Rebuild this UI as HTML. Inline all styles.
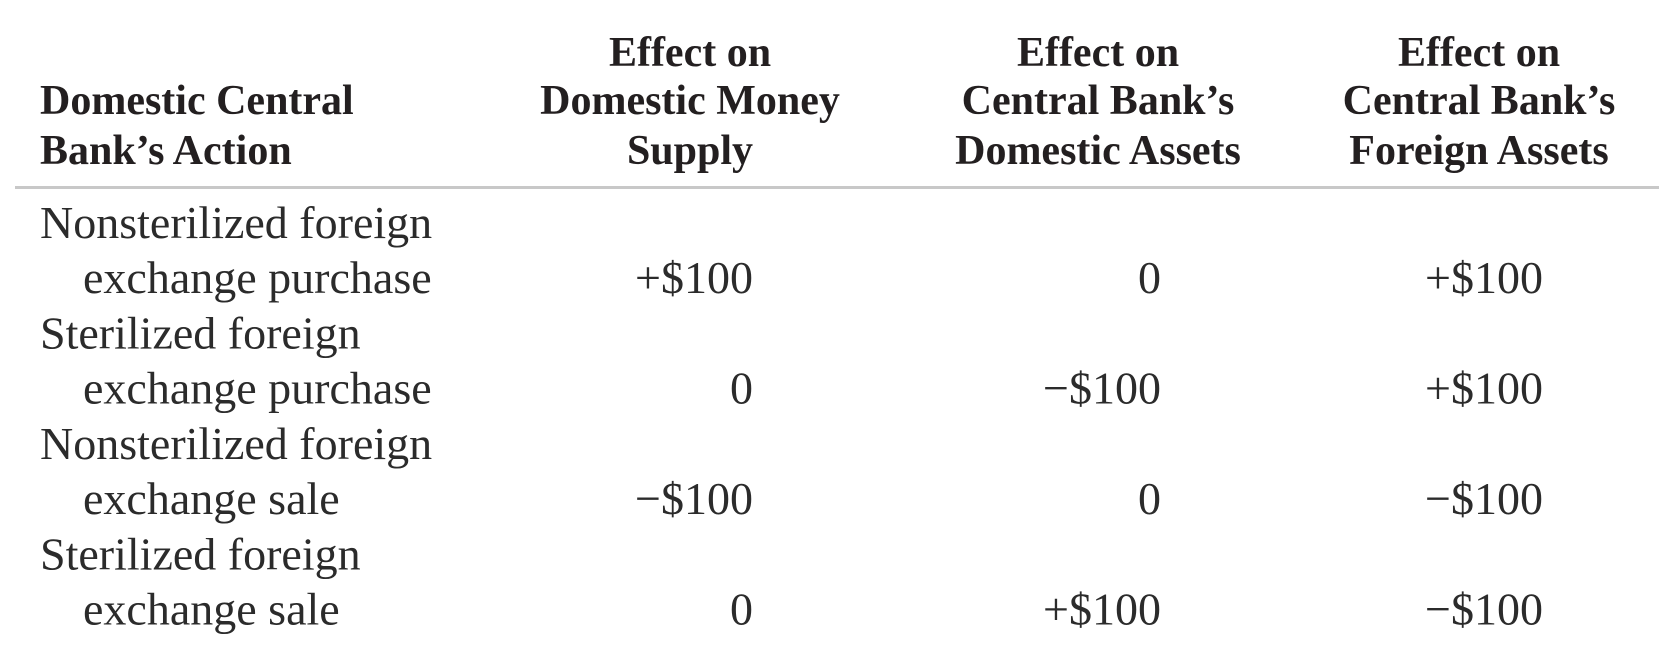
<!DOCTYPE html>
<html><head><meta charset="utf-8"><style>
html,body{margin:0;padding:0;background:#fff;width:1659px;height:667px;overflow:hidden}
svg{display:block}
.h{font-family:"Liberation Serif",serif;font-weight:bold;font-size:42px;fill:#231f20}
.b{font-family:"Liberation Serif",serif;font-size:46px;fill:#2b2b2b}
</style></head><body>
<svg width="1659" height="667">
<g>
<text class="h" x="40" y="114">Domestic Central</text>
<text class="h" x="40" y="164">Bank’s Action</text>
<text class="h" x="690" y="66" text-anchor="middle">Effect on</text>
<text class="h" x="690" y="114" text-anchor="middle">Domestic Money</text>
<text class="h" x="690" y="164" text-anchor="middle">Supply</text>
<text class="h" x="1098" y="66" text-anchor="middle">Effect on</text>
<text class="h" x="1098" y="114" text-anchor="middle">Central Bank’s</text>
<text class="h" x="1098" y="164" text-anchor="middle">Domestic Assets</text>
<text class="h" x="1479" y="66" text-anchor="middle">Effect on</text>
<text class="h" x="1479" y="114" text-anchor="middle">Central Bank’s</text>
<text class="h" x="1479" y="164" text-anchor="middle">Foreign Assets</text>
</g>
<rect x="15" y="186" width="1644" height="3" fill="#c8c8c8"/>
<g id="body"></g>
</svg>
<script>
const actions1 = ["Nonsterilized foreign","Sterilized foreign","Nonsterilized foreign","Sterilized foreign"];
const actions2 = ["exchange purchase","exchange purchase","exchange sale","exchange sale"];
const moneySupply = ["+$100","0","\u2212$100","0"];
const domesticAssets = ["0","\u2212$100","0","+$100"];
const foreignAssets = ["+$100","+$100","\u2212$100","\u2212$100"];
const g = document.getElementById('body');
const NS = "http://www.w3.org/2000/svg";
function t(x, y, s, anchor, name) {
  const el = document.createElementNS(NS, 'text');
  el.setAttribute('class', 'b');
  el.setAttribute('x', x);
  el.setAttribute('y', y);
  if (anchor) el.setAttribute('text-anchor', anchor);
  el.textContent = s;
  
  
  g.appendChild(el);
}
for (let i = 0; i < actions1.length; i++) {
  const y1 = 238 + i * 110.5, y2 = y1 + 55;
  t(40, y1, actions1[i], null, 'action-label');
  t(83, y2, actions2[i], null, 'action-label-line2');
  t(753, y2, moneySupply[i], 'end', 'money-supply-value');
  t(1161, y2, domesticAssets[i], 'end', 'domestic-assets-value');
  t(1543, y2, foreignAssets[i], 'end', 'foreign-assets-value');
}
</script>
</body></html>
